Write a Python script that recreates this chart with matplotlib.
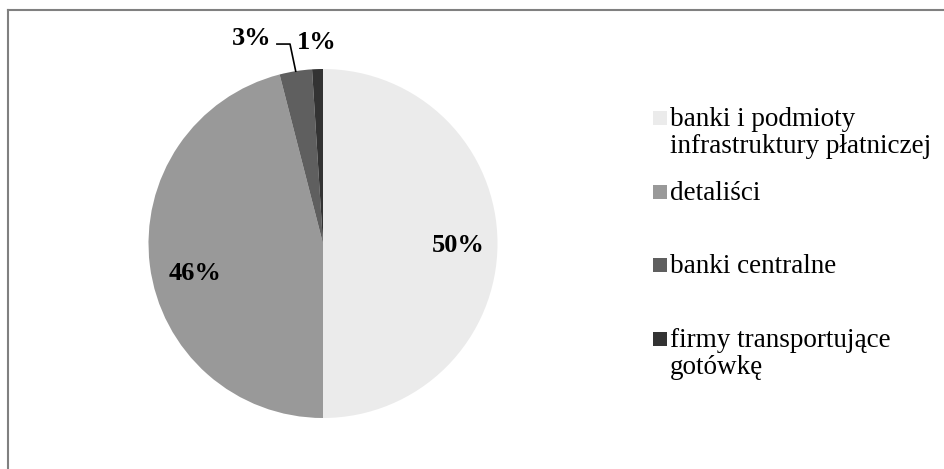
import matplotlib.pyplot as plt
import numpy as np
from matplotlib.lines import Line2D
from matplotlib.patches import Rectangle

# dane
categories = ['banki i podmioty\ninfrastruktury płatniczej', 'detaliści',
              'banki centralne', 'firmy transportujące\ngotówkę']
shares = [50, 46, 3, 1]
colors = ['#ebebeb', '#999999', '#5f5f5f', '#333333']

plt.rcParams['font.family'] = ['Liberation Serif', 'DejaVu Serif']

W, H = 945, 469
fig = plt.figure(figsize=(W / 100, H / 100), dpi=100)

# pozycja kola w pikselach
cx, cy, r = 323, 243.5, 174.5
lim = 1.3
ax = fig.add_axes([(cx - lim * r) / W, (H - cy - lim * r) / H,
                   2 * lim * r / W, 2 * lim * r / H])

wedges, _ = ax.pie(shares, colors=colors, startangle=90, counterclock=False,
                   radius=1, wedgeprops=dict(linewidth=0))
ax.set_xlim(-lim, lim)
ax.set_ylim(-lim, lim)
ax.axis('off')

# etykiety procentowe wewnatrz (jak w Excelu - lekko przesuniete)
inside_pos = {0: (0.775, -0.01), 1: (-0.736, -0.17)}
for i, v in enumerate(shares):
    if i in inside_pos:
        x, y = inside_pos[i]
        ax.text(x, y, f'{v}%', ha='center', va='center',
                fontsize=19, fontweight='bold')

# male wycinki - etykiety na zewnatrz
w3 = wedges[2]
mid3 = np.deg2rad((w3.theta1 + w3.theta2) / 2)
ax.plot([np.cos(mid3), -0.189, -0.264], [np.sin(mid3), 1.143, 1.143],
        color='black', lw=1.2, clip_on=False)
ax.text(-0.41, 1.172, f'{shares[2]}%', ha='center', va='center',
        fontsize=19, fontweight='bold')
ax.text(-0.034, 1.152, f'{shares[3]}%', ha='center', va='center',
        fontsize=19, fontweight='bold')

# legenda (linie bazowe pierwszych wierszy w pikselach)
leg_base = [126, 200, 273, 347]
line_h = 26.5
for lab, col, yb in zip(categories, colors, leg_base):
    fig.patches.append(Rectangle((653 / W, (H - yb + 1) / H), 14 / W, 14 / H,
                                 transform=fig.transFigure, facecolor=col,
                                 edgecolor='none'))
    for k, line in enumerate(lab.split('\n')):
        fig.text(670 / W, (H - yb - k * line_h) / H, line, ha='left',
                 va='baseline', fontsize=19.5)

# ramka
fig.add_artist(Line2D([8.5 / W, 8.5 / W], [0, (H - 10) / H],
                      transform=fig.transFigure, color='#808080', lw=1.5))
fig.add_artist(Line2D([8 / W, 1], [(H - 10.5) / H, (H - 10.5) / H],
                      transform=fig.transFigure, color='#808080', lw=1.5))

fig.savefig('out.png', dpi=100)
